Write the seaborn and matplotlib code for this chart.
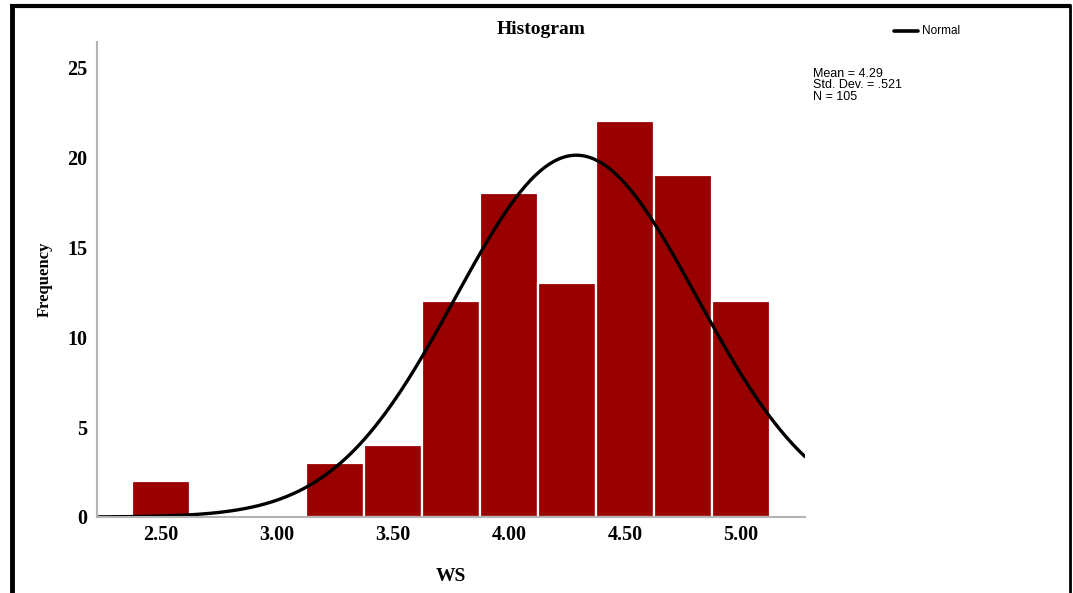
import numpy as np
import seaborn as sns
import matplotlib.pyplot as plt
from matplotlib.lines import Line2D

# histogram of WS (bin centres and frequencies)
bin_centers = [2.50, 2.75, 3.00, 3.25, 3.50, 3.75, 4.00, 4.25, 4.50, 4.75, 5.00]
frequencies = [2, 0, 0, 3, 4, 12, 18, 13, 22, 19, 12]
x_ticks = [2.50, 3.00, 3.50, 4.00, 4.50, 5.00]
y_ticks = [0, 5, 10, 15, 20, 25]

# summary stats shown on the chart
mean_ws = 4.29
sd_ws = 0.521
n_ws = 105
bin_width = 0.25

sns.set_style('white')
serif = ['Liberation Serif', 'DejaVu Serif']
sans = ['Liberation Sans', 'DejaVu Sans']

fig = plt.figure(figsize=(10.73, 5.93), dpi=100)
ax = fig.add_axes([97 / 1073, 76 / 593, 708 / 1073, 475 / 593])

sns.histplot(x=bin_centers, weights=frequencies, binwidth=bin_width,
             binrange=(bin_centers[0] - bin_width / 2, bin_centers[-1] + bin_width / 2),
             color='#990000', alpha=1, edgecolor='white', linewidth=1.6, ax=ax)

# fitted normal curve from the reported mean / sd
xs = np.linspace(2.224, 5.276, 300)
ys = n_ws * bin_width * np.exp(-0.5 * ((xs - mean_ws) / sd_ws) ** 2) / (sd_ws * np.sqrt(2 * np.pi))
ax.plot(xs, ys, color='black', linewidth=2.4, solid_capstyle='round')

ax.set_xlim(2.224, 5.276)
ax.set_ylim(0, 26.39)
ax.set_xticks(x_ticks)
ax.set_xticklabels([f'{t:.2f}' for t in x_ticks], family=serif, fontweight='bold',
                   fontsize=14.5, color='black')
ax.set_yticks(y_ticks)
ax.set_yticklabels([str(t) for t in y_ticks], family=serif, fontweight='bold',
                   fontsize=14.5, color='black')
ax.tick_params(axis='y', length=0, pad=7)
ax.tick_params(axis='x', length=0, pad=6)

for side in ['top', 'right']:
    ax.spines[side].set_visible(False)
for side in ['left', 'bottom']:
    ax.spines[side].set_color('#b3b3b3')
    ax.spines[side].set_linewidth(1.5)

ax.set_xlabel('WS', family=serif, fontweight='bold', fontsize=14, labelpad=16, color='black')
ax.set_ylabel('Frequency', family=serif, fontweight='bold', fontsize=12, labelpad=10, color='black')

fig.text(541 / 1073, 1 - 30 / 593, 'Histogram', family=serif, fontweight='bold',
         fontsize=14, ha='center', va='center', color='black')

# legend + stats box
fig.add_artist(Line2D([894 / 1073, 918 / 1073], [1 - 30.5 / 593] * 2, color='black', linewidth=2.6))
fig.text(922 / 1073, 1 - 31 / 593, 'Normal', family=sans, fontsize=8.5, va='center', color='black')
fig.text(813 / 1073, 1 - 68 / 593, 'Mean = 4.29\nStd. Dev. = .521\nN = 105', family=sans,
         fontsize=9, va='top', linespacing=0.92, color='black')

# outer frame
fig.add_artist(Line2D([10 / 1073, 1071 / 1073], [1 - 5.5 / 593] * 2, color='black',
                      linewidth=3, solid_capstyle='butt'))
fig.add_artist(Line2D([11.5 / 1073] * 2, [0, 1 - 4 / 593], color='black',
                      linewidth=3.5, solid_capstyle='butt'))
fig.add_artist(Line2D([1070 / 1073] * 2, [0, 1 - 4 / 593], color='black',
                      linewidth=2, solid_capstyle='butt'))

fig.savefig('out.png', dpi=100)
